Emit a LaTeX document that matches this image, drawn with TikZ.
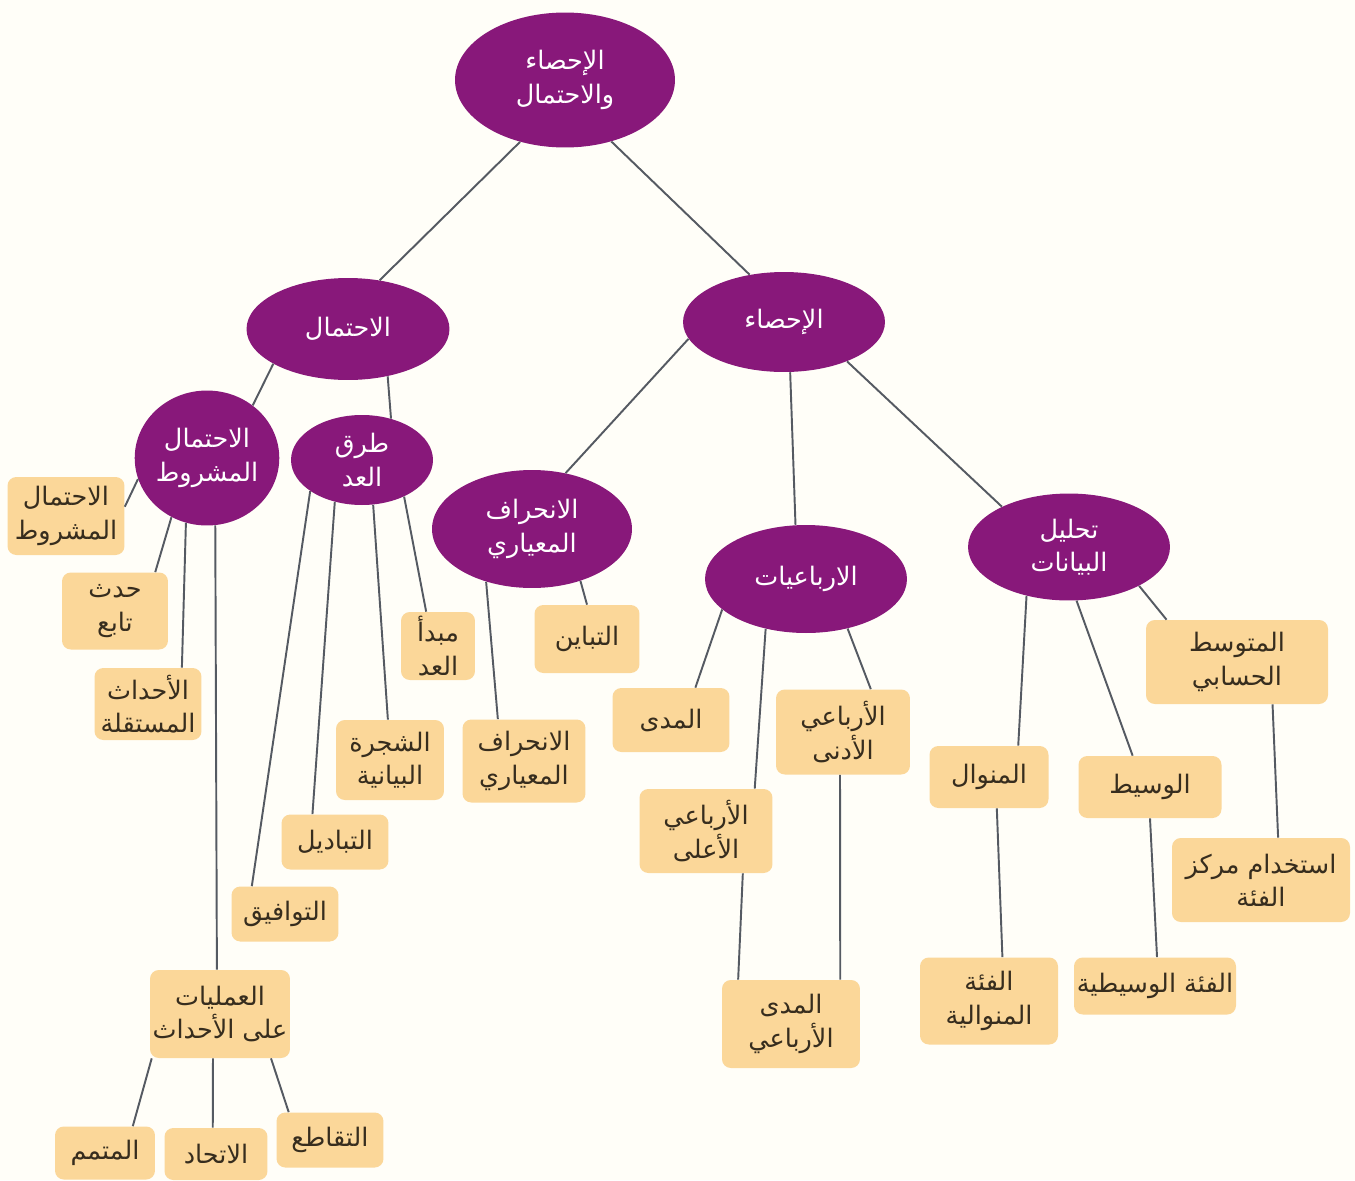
\documentclass[tikz,border=0pt]{standalone}
\usepackage{fontspec}
\setmainfont{DejaVu Sans}
\newfontfamily\arabicfont[Script=Arabic]{DejaVu Sans}
\TeXXeTstate=1
\usetikzlibrary{shapes.geometric}
\definecolor{purp}{RGB}{136,24,122}
\definecolor{boxc}{RGB}{251,215,153}
\definecolor{bgc}{RGB}{255,254,248}
\definecolor{linec}{RGB}{85,90,98}
\definecolor{txtc}{RGB}{55,45,30}
\newcommand\arl[1]{\beginR #1\endR}
\begin{document}
\begin{tikzpicture}[x=0.02cm,y=-0.02cm,
  ell/.style={ellipse, fill=purp, text=white, inner sep=0pt, align=center,
    font=\arabicfont\fontsize{14.5}{19}\selectfont},
  bx/.style={rectangle, rounded corners=5pt, fill=boxc, text=txtc, inner sep=0pt, align=center,
    font=\arabicfont\fontsize{14.5}{19}\selectfont},
  con/.style={draw=linec, line width=1.1pt}]
\fill[bgc] (0,0) rectangle (1355,1180);
\useasboundingbox (0,0) rectangle (1355,1180);

% ellipses
\node[ell, minimum width=4.4cm, minimum height=2.7cm] (root) at (565,80) {\arl{الإحصاء}\\\arl{والاحتمال}};
\node[ell, minimum width=4.06cm, minimum height=2.04cm] (ihtimal) at (348,329) {\arl{الاحتمال}};
\node[ell, minimum width=4.04cm, minimum height=2.0cm] (ihsa) at (784,322) {\arl{الإحصاء}};
\node[ell, minimum width=2.8cm, minimum height=2.7cm] (mash) at (207,458) {\arl{الاحتمال}\\\arl{المشروط}};
\node[ell, minimum width=2.84cm, minimum height=1.8cm] (tarq) at (362,460) {\arl{طرق}\\\arl{العد}};
\node[ell, minimum width=4.0cm, minimum height=2.36cm] (inh) at (532,529) {\arl{الانحراف}\\\arl{المعياري}};
\node[ell, minimum width=4.04cm, minimum height=2.16cm] (arb) at (806,579) {\arl{الارباعيات}};
\node[ell, minimum width=4.04cm, minimum height=2.14cm] (tah) at (1069,547) {\arl{تحليل}\\\arl{البيانات}};

% boxes
\node[bx, minimum width=2.34cm, minimum height=1.56cm] (b1) at (66,516) {\arl{الاحتمال}\\\arl{المشروط}};
\node[bx, minimum width=2.12cm, minimum height=1.54cm] (b2) at (115,611) {\arl{حدث}\\\arl{تابع}};
\node[bx, minimum width=2.14cm, minimum height=1.44cm] (b3) at (148,704) {\arl{الأحداث}\\\arl{المستقلة}};
\node[bx, minimum width=1.48cm, minimum height=1.36cm] (b4) at (438,646) {\arl{مبدأ}\\\arl{العد}};
\node[bx, minimum width=2.16cm, minimum height=1.6cm] (b5) at (390,760) {\arl{الشجرة}\\\arl{البيانية}};
\node[bx, minimum width=2.14cm, minimum height=1.1cm] (b6) at (335,842) {\arl{التباديل}};
\node[bx, minimum width=2.14cm, minimum height=1.1cm] (b7) at (285,914) {\arl{التوافيق}};
\node[bx, minimum width=2.8cm, minimum height=1.76cm] (b8) at (220,1014) {\arl{العمليات}\\\arl{على الأحداث}};
\node[bx, minimum width=2.0cm, minimum height=1.06cm] (b9) at (105,1153) {\arl{المتمم}};
\node[bx, minimum width=2.06cm, minimum height=1.04cm] (b10) at (216,1154) {\arl{الاتحاد}};
\node[bx, minimum width=2.14cm, minimum height=1.1cm] (b11) at (330,1140) {\arl{التقاطع}};
\node[bx, minimum width=2.1cm, minimum height=1.36cm] (b12) at (587,639) {\arl{التباين}};
\node[bx, minimum width=2.46cm, minimum height=1.66cm] (b13) at (524,761) {\arl{الانحراف}\\\arl{المعياري}};
\node[bx, minimum width=2.34cm, minimum height=1.28cm] (b14) at (671,720) {\arl{المدى}};
\node[bx, minimum width=2.68cm, minimum height=1.7cm] (b15) at (843,732) {\arl{الأرباعي}\\\arl{الأدنى}};
\node[bx, minimum width=2.66cm, minimum height=1.68cm] (b16) at (706,831) {\arl{الأرباعي}\\\arl{الأعلى}};
\node[bx, minimum width=2.76cm, minimum height=1.76cm] (b17) at (791,1024) {\arl{المدى}\\\arl{الأرباعي}};
\node[bx, minimum width=3.64cm, minimum height=1.68cm] (b18) at (1237,662) {\arl{المتوسط}\\\arl{الحسابي}};
\node[bx, minimum width=2.38cm, minimum height=1.24cm] (b19) at (989,777) {\arl{المنوال}};
\node[bx, minimum width=2.86cm, minimum height=1.24cm] (b20) at (1150,787) {\arl{الوسيط}};
\node[bx, minimum width=3.56cm, minimum height=1.68cm] (b21) at (1261,880) {\arl{استخدام مركز}\\\arl{الفئة}};
\node[bx, minimum width=2.76cm, minimum height=1.74cm] (b22) at (989,1001) {\arl{الفئة}\\\arl{المنوالية}};
\node[bx, minimum width=3.24cm, minimum height=1.14cm] (b23) at (1155,986) {\arl{الفئة الوسيطية}};

% connectors
\draw[con] (root.234) -- (ihtimal.57);
\draw[con] (root.307) -- (ihsa.126);
\draw[con] (ihtimal.205) -- (mash.49);
\draw[con] (ihtimal.310) -- (tarq.55);
\draw[con] (ihsa.190) -- (inh.59);
\draw[con] (ihsa.277) -- (arb.101);
\draw[con] (ihsa.328) -- (tah.149);
\draw[con] (mash.197) -- (b1.9);
\draw[con] (mash.239) -- (b2.44);
\draw[con] (mash.252) -- (b3.47);
\draw[con] (mash.277) -- (b8.94);
\draw[con] (tarq.211) -- (b7.140);
\draw[con] (tarq.237) -- (b6.129);
\draw[con] (tarq.284) -- (b5.93);
\draw[con] (tarq.319) -- (b4.109);
\draw[con] (b8.213) -- (b9.44);
\draw[con] (b8.261) -- (b10.97);
\draw[con] (b8.319) -- (b11.146);
\draw[con] (inh.313) -- (b12.90);
\draw[con] (inh.229) -- (b13.122);
\draw[con] (arb.200) -- (b14.53);
\draw[con] (arb.231) -- (b16.41);
\draw[con] (arb.310) -- (b15.57);
\draw[con] (b16.311) -- (b17.140);
\draw[con] (b15.266) -- (b17.42);
\draw[con] (tah.229) -- (b19.47);
\draw[con] (tah.278) -- (b20.119);
\draw[con] (tah.331) -- (b18.149);
\draw[con] (b18.310) -- (b21.68);
\draw[con] (b19.284) -- (b22.73);
\draw[con] (b20.270) -- (b23.86);
\end{tikzpicture}
\end{document}
